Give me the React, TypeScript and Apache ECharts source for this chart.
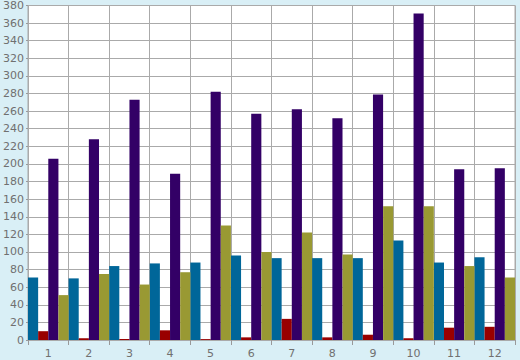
import React, { useEffect, useRef } from "react";
import * as echarts from "echarts";

const categories = ["1", "2", "3", "4", "5", "6", "7", "8", "9", "10", "11", "12"];
const blueValues = [71, 70, 84, 87, 88, 96, 93, 93, 93, 113, 88, 94];
const redValues = [10, 2, 1, 11, 1, 3, 24, 3, 6, 2, 14, 15];
const purpleValues = [206, 228, 273, 189, 282, 257, 262, 252, 279, 371, 194, 195];
const oliveValues = [51, 75, 63, 77, 130, 100, 122, 97, 152, 152, 84, 71];

export default function App() {
  const ref = useRef<HTMLDivElement>(null);
  useEffect(() => {
    if (!ref.current) return;
    const chart = echarts.init(ref.current, null, { renderer: "svg" });
    const mk = (name: string, data: number[], color: string) => ({
      name,
      type: "bar",
      data,
      barGap: "0%",
      barCategoryGap: "0%",
      itemStyle: { color },
    });
    chart.setOption({
      animation: false,
      backgroundColor: "#d9eff6",
      textStyle: { fontFamily: "DejaVu Sans" },
      grid: {
        left: 26,
        right: 5,
        top: 5,
        bottom: 20,
        show: true,
        backgroundColor: "#ffffff",
        borderColor: "#aaaaaa",
        borderWidth: 1,
      },
      xAxis: {
        type: "category",
        data: categories,
        axisLine: { lineStyle: { color: "#aaaaaa" } },
        axisTick: { show: true, length: 5, lineStyle: { color: "#999999" } },
        splitLine: { show: true, lineStyle: { color: "#aaaaaa", width: 1 } },
        axisLabel: { color: "#707070", fontSize: 11, margin: 8 },
      },
      yAxis: {
        type: "value",
        min: 0,
        max: 380,
        interval: 20,
        axisLine: { show: true, lineStyle: { color: "#aaaaaa" } },
        axisTick: { show: true, length: 2, lineStyle: { color: "#999999" } },
        splitLine: { lineStyle: { color: "#aaaaaa", width: 1 } },
        axisLabel: { color: "#707070", fontSize: 11, margin: 4 },
      },
      series: [
        mk("blue", blueValues, "#006699"),
        mk("red", redValues, "#990000"),
        mk("purple", purpleValues, "#330066"),
        mk("olive", oliveValues, "#999933"),
      ],
    });
    return () => chart.dispose();
  }, []);
  return <div ref={ref} style={{ width: 520, height: 360, position: "absolute", left: 0, top: 0 }} />;
}
